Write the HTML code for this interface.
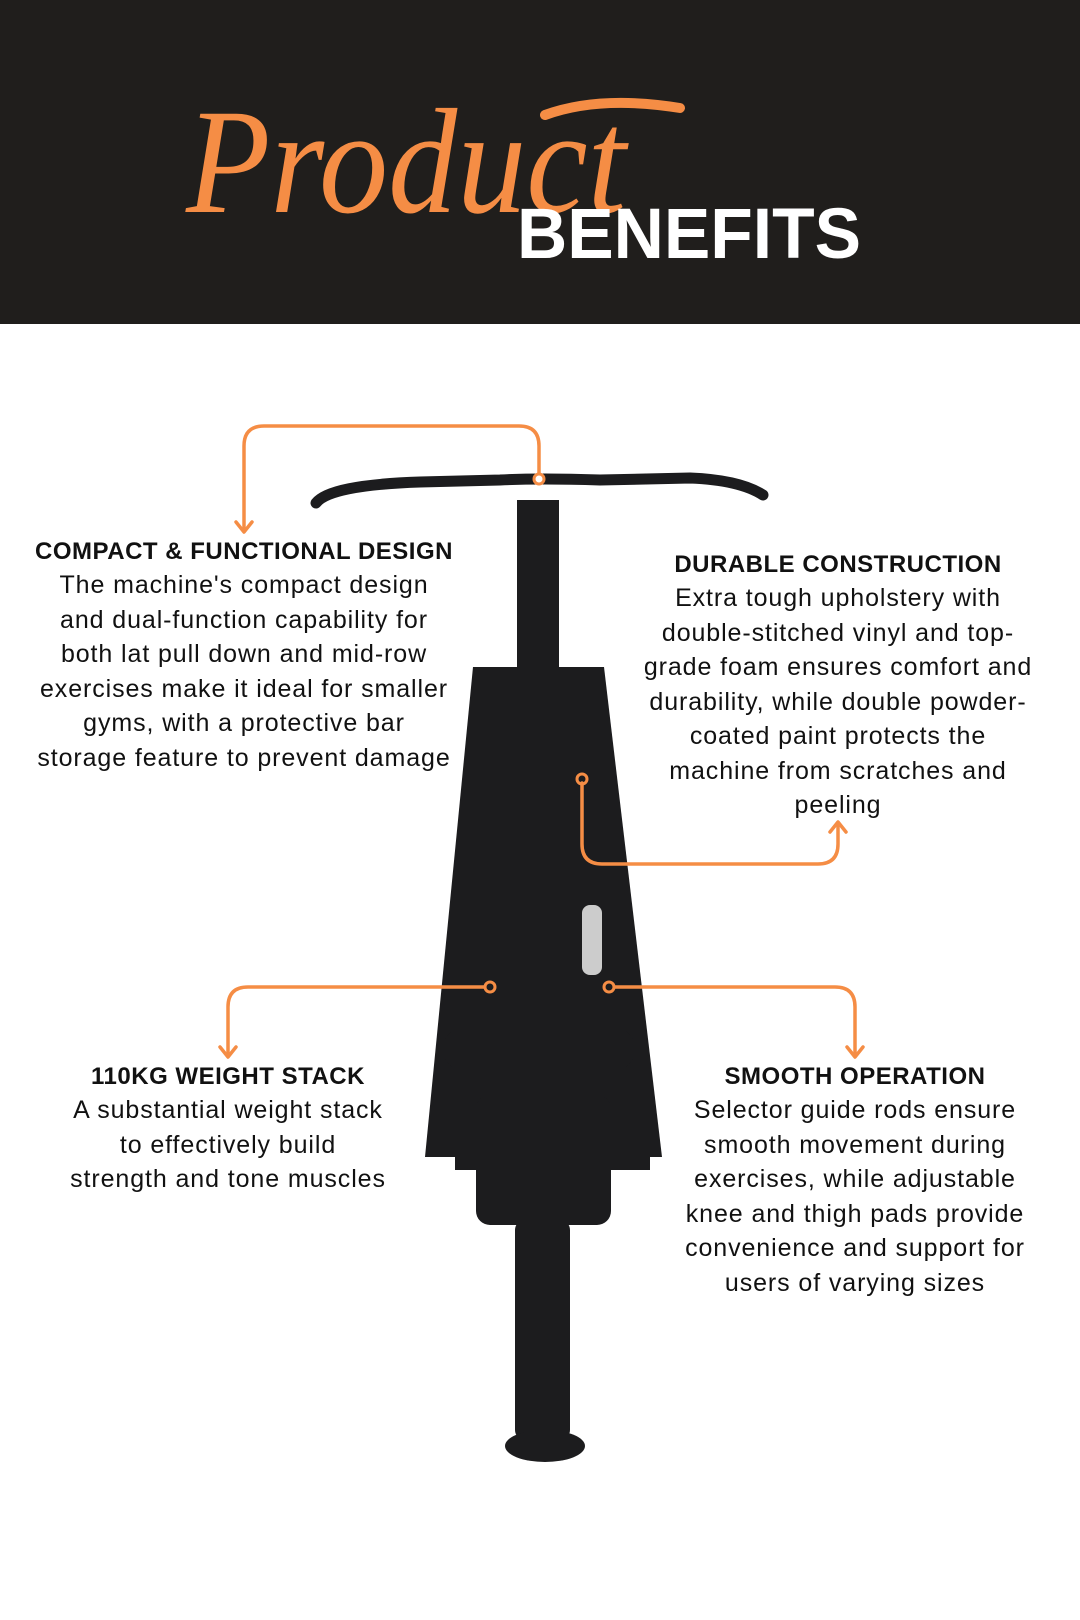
<!DOCTYPE html>
<html><head><meta charset="utf-8"><style>
html,body{margin:0;padding:0;background:#fff;}
svg{display:block}
.t{font-family:"Liberation Sans",sans-serif;font-weight:bold;font-size:24px;letter-spacing:0.5px;fill:#111;text-anchor:middle}
.b{font-family:"Liberation Sans",sans-serif;font-size:25px;letter-spacing:0.9px;fill:#111;text-anchor:middle}
.c{fill:none;stroke:#f58d45;stroke-width:3.5;stroke-linecap:round;stroke-linejoin:round}
</style></head><body>
<svg width="1080" height="1620" viewBox="0 0 1080 1620" xmlns="http://www.w3.org/2000/svg">
<rect x="0" y="0" width="1080" height="324" fill="#201e1c"/>
<text x="186" y="212" font-family="Liberation Serif,serif" font-style="italic" font-size="150" fill="#f58d45" textLength="440" lengthAdjust="spacingAndGlyphs">Product</text>
<path d="M545 115 Q600 95 680 108" stroke="#f58d45" stroke-width="10" fill="none" stroke-linecap="round"/>
<text x="517" y="258" font-family="Liberation Sans,sans-serif" font-weight="bold" font-size="71" fill="#fff" textLength="344" lengthAdjust="spacingAndGlyphs">BENEFITS</text>

<!-- machine -->
<g fill="#1c1c1e">
<polygon points="473,667 604,667 662,1157 425,1157"/>
<rect x="455" y="1148" width="195" height="22"/>
<rect x="517" y="500" width="42" height="540"/>
<rect x="444" y="1028" width="190" height="42" rx="18"/>
<rect x="476" y="1095" width="135" height="130" rx="14"/>
<rect x="515" y="1220" width="55" height="220" rx="10"/>
<ellipse cx="545" cy="1446" rx="40" ry="16"/>
</g>
<rect x="582" y="905" width="20" height="70" rx="8" fill="#ccc"/>
<path d="M316 503 Q330 485 420 482 L500 480 Q540 478 600 480 L690 478 Q740 480 763 495" stroke="#1c1c1e" stroke-width="11" fill="none" stroke-linecap="round"/>

<!-- connectors -->
<path class="c" d="M244 530 V446 Q244 426 264 426 H519 Q539 426 539 446 V477"/>
<path class="c" d="M236 522 L244 532 L252 522"/>
<circle cx="539" cy="479" r="5" fill="#fff" stroke="#f58d45" stroke-width="3"/>
<path class="c" d="M582 783 V844 Q582 864 602 864 H818 Q838 864 838 844 V824"/>
<path class="c" d="M830 832 L838 822 L846 832"/>
<circle cx="582" cy="779" r="5" fill="none" stroke="#f58d45" stroke-width="3"/>
<path class="c" d="M485 987 H248 Q228 987 228 1007 V1055"/>
<path class="c" d="M220 1047 L228 1057 L236 1047"/>
<circle cx="490" cy="987" r="5" fill="#1c1c1e" stroke="#f58d45" stroke-width="3"/>
<path class="c" d="M614 987 H835 Q855 987 855 1007 V1055"/>
<path class="c" d="M847 1047 L855 1057 L863 1047"/>
<circle cx="609" cy="987" r="5" fill="#1c1c1e" stroke="#f58d45" stroke-width="3"/>

<!-- text blocks -->
<text class="t" x="244" y="559">COMPACT &amp; FUNCTIONAL DESIGN</text>
<text class="b" x="244" y="593">The machine's compact design</text>
<text class="b" x="244" y="628">and dual-function capability for</text>
<text class="b" x="244" y="662">both lat pull down and mid-row</text>
<text class="b" x="244" y="697">exercises make it ideal for smaller</text>
<text class="b" x="244" y="731">gyms, with a protective bar</text>
<text class="b" x="244" y="766">storage feature to prevent damage</text>

<text class="t" x="838" y="572">DURABLE CONSTRUCTION</text>
<text class="b" x="838" y="606">Extra tough upholstery with</text>
<text class="b" x="838" y="641">double-stitched vinyl and top-</text>
<text class="b" x="838" y="675">grade foam ensures comfort and</text>
<text class="b" x="838" y="710">durability, while double powder-</text>
<text class="b" x="838" y="744">coated paint protects the</text>
<text class="b" x="838" y="779">machine from scratches and</text>
<text class="b" x="838" y="813">peeling</text>

<text class="t" x="228" y="1084">110KG WEIGHT STACK</text>
<text class="b" x="228" y="1118">A substantial weight stack</text>
<text class="b" x="228" y="1153">to effectively build</text>
<text class="b" x="228" y="1187">strength and tone muscles</text>

<text class="t" x="855" y="1084">SMOOTH OPERATION</text>
<text class="b" x="855" y="1118">Selector guide rods ensure</text>
<text class="b" x="855" y="1153">smooth movement during</text>
<text class="b" x="855" y="1187">exercises, while adjustable</text>
<text class="b" x="855" y="1222">knee and thigh pads provide</text>
<text class="b" x="855" y="1256">convenience and support for</text>
<text class="b" x="855" y="1291">users of varying sizes</text>
</svg>
</body></html>
